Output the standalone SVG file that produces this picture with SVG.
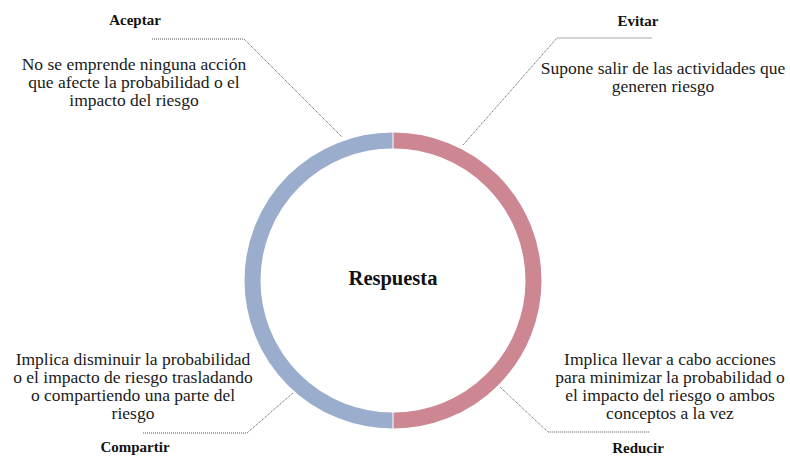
<svg xmlns="http://www.w3.org/2000/svg" width="790" height="457" viewBox="0 0 790 457">
  <style>
    .title { font-family: "Liberation Serif", "Times New Roman", serif; font-weight: bold; font-size: 15px; fill: #111; text-anchor: middle; }
    .body { font-family: "Liberation Serif", "Times New Roman", serif; font-size: 17.5px; fill: #1a1a1a; text-anchor: middle; }
    .center { font-family: "Liberation Serif", "Times New Roman", serif; font-weight: bold; font-size: 20.5px; fill: #111; text-anchor: middle; }
    .leader { fill: none; stroke: #555; stroke-width: 1; stroke-dasharray: 1 1; }
  </style>
  <rect width="790" height="457" fill="#ffffff"/>

  <!-- central ring: left half blue, right half red -->
  <g id="respuesta">
    <path d="M 392.5 140.5 A 140 140 0 0 0 392.5 420.5" fill="none" stroke="#9badcd" stroke-width="16"/>
    <path d="M 393.5 140.5 A 140 140 0 0 1 393.5 420.5" fill="none" stroke="#cc8793" stroke-width="16"/>
    <text class="center" x="393" y="285">Respuesta</text>
  </g>

  <!-- leader lines -->
  <g id="connectors">
    <polyline class="leader" points="152,39 244,39 342,137"/>
    <polyline class="leader" points="463,145 557,38 652,38"/>
    <polyline class="leader" points="293,393 247,433 143,433"/>
    <polyline class="leader" points="500,387 548,432 650,432"/>
  </g>

  <g id="aceptar">
    <text class="title" x="135" y="25">Aceptar</text>
    <text class="body" x="134" y="70">No se emprende ninguna acción</text>
    <text class="body" x="134" y="88">que afecte la probabilidad o el</text>
    <text class="body" x="134" y="106">impacto del riesgo</text>
  </g>

  <g id="evitar">
    <text class="title" x="638" y="26">Evitar</text>
    <text class="body" x="663" y="74">Supone salir de las actividades que</text>
    <text class="body" x="663" y="92">generen riesgo</text>
  </g>

  <g id="compartir">
    <text class="body" x="133" y="365">Implica disminuir la probabilidad</text>
    <text class="body" x="133" y="383">o el impacto de riesgo trasladando</text>
    <text class="body" x="133" y="401">o compartiendo una parte del</text>
    <text class="body" x="133" y="419">riesgo</text>
    <text class="title" x="135" y="452">Compartir</text>
  </g>

  <g id="reducir">
    <text class="body" x="670" y="365">Implica llevar a cabo acciones</text>
    <text class="body" x="670" y="383">para minimizar la probabilidad o</text>
    <text class="body" x="670" y="401">el impacto del riesgo o ambos</text>
    <text class="body" x="670" y="419">conceptos a la vez</text>
    <text class="title" x="638" y="453">Reducir</text>
  </g>
</svg>
